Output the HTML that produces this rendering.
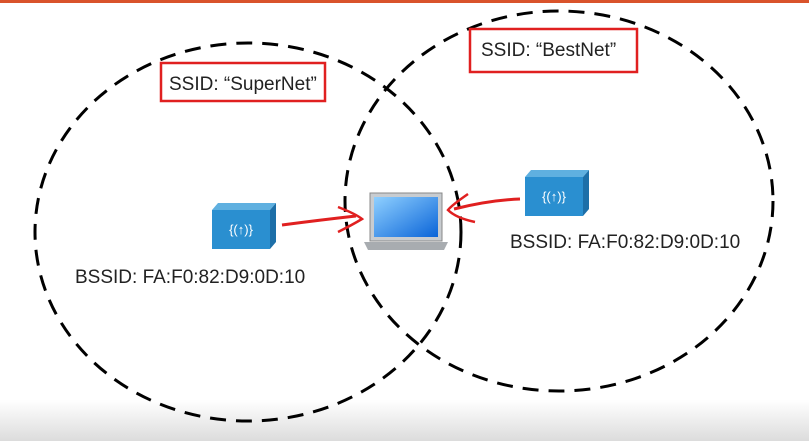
<!DOCTYPE html>
<html><head><style>
body{margin:0;width:809px;height:441px;overflow:hidden;background:#fff;font-family:"Liberation Sans",sans-serif;}
</style></head><body>
<svg width="809" height="441" xmlns="http://www.w3.org/2000/svg">
<defs>
<linearGradient id="bg" x1="0" y1="0" x2="0" y2="1"><stop offset="0" stop-color="#fff"/><stop offset="1" stop-color="#dcdcdc"/></linearGradient>
<linearGradient id="scr" x1="0" y1="0" x2="1" y2="1"><stop offset="0" stop-color="#8fd0ff"/><stop offset="1" stop-color="#0a64d8"/></linearGradient>
</defs>
<rect x="0" y="400" width="809" height="41" fill="url(#bg)"/>
<rect x="0" y="0" width="809" height="3" fill="#d9532b"/>
<ellipse cx="248" cy="232" rx="213" ry="189" fill="none" stroke="#000" stroke-width="3" stroke-dasharray="16,10"/>
<ellipse cx="559" cy="201" rx="214" ry="190" fill="none" stroke="#000" stroke-width="3" stroke-dasharray="16,10"/>
<rect x="161" y="63" width="164" height="38" fill="#fff" stroke="#e02020" stroke-width="2.5"/>
<text x="169" y="90" font-size="19" fill="#222">SSID: “SuperNet”</text>
<rect x="470" y="29" width="167" height="43" fill="#fff" stroke="#e02020" stroke-width="2.5"/>
<text x="481" y="56" font-size="19" fill="#222">SSID: “BestNet”</text>
<!-- left AP -->
<polygon points="212,210 218,203 276,203 270,210" fill="#5fb0e0"/>
<polygon points="270,210 276,203 276,242 270,249" fill="#1d6fa8"/>
<rect x="212" y="210" width="58" height="39" fill="#2a8fd0"/>
<text x="241" y="234" font-size="13" fill="#fff" text-anchor="middle">{(↑)}</text>
<!-- right AP -->
<polygon points="525,177 531,170 589,170 583,177" fill="#5fb0e0"/>
<polygon points="583,177 589,170 589,209 583,216" fill="#1d6fa8"/>
<rect x="525" y="177" width="58" height="39" fill="#2a8fd0"/>
<text x="554" y="201" font-size="13" fill="#fff" text-anchor="middle">{(↑)}</text>
<!-- laptop -->
<rect x="370" y="193" width="72" height="48" fill="#c8ccd0" stroke="#888"/>
<rect x="374" y="197" width="64" height="40" fill="url(#scr)"/>
<polygon points="364,242 448,242 444,250 368,250" fill="#a8acb0"/>
<!-- arrows -->
<path d="M282,225 Q320,220 356,216" stroke="#e02020" stroke-width="3" fill="none"/>
<path d="M338,207 Q356,214 362,219 Q352,225 338,232" stroke="#e02020" stroke-width="2.5" fill="none"/>
<path d="M520,199 Q490,200 454,209" stroke="#e02020" stroke-width="3" fill="none"/>
<path d="M468,194 Q452,205 448,210 Q456,218 475,222" stroke="#e02020" stroke-width="2.5" fill="none"/>
<text x="75" y="283" font-size="19" fill="#222">BSSID: FA:F0:82:D9:0D:10</text>
<text x="510" y="248" font-size="19" fill="#222">BSSID: FA:F0:82:D9:0D:10</text>
</svg>
</body></html>
